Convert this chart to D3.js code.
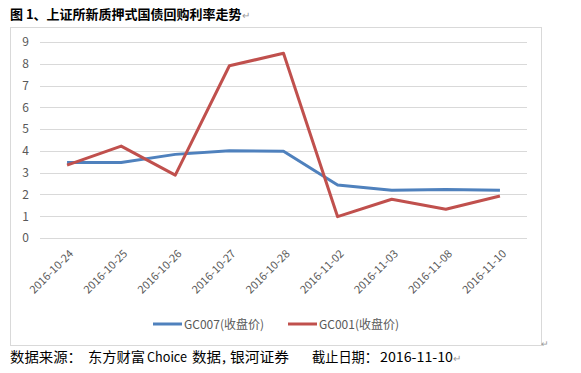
<!DOCTYPE html>
<html><head><meta charset="utf-8">
<script src="https://cdn.jsdelivr.net/npm/d3@7"></script>
<style>body{margin:0;background:#fff}</style>
</head><body>
<svg id="c" width="581" height="373"></svg>
<script>
const categories = ["2016-10-24","2016-10-25","2016-10-26","2016-10-27","2016-10-28","2016-11-02","2016-11-03","2016-11-08","2016-11-10"];
const gc007 = [3.47, 3.47, 3.84, 4.01, 3.98, 2.43, 2.19, 2.23, 2.19];
const gc001 = [3.35, 4.22, 2.89, 7.91, 8.48, 0.98, 1.78, 1.32, 1.93];
const yTicks = [0,1,2,3,4,5,6,7,8,9];
const seriesNames = ["GC007(收盘价)", "GC001(收盘价)"];
const colors = ["#4F81BD", "#C0504D"];

const svg = d3.select("#c");
const font = "'Noto Sans CJK SC', 'Noto Sans', sans-serif";

svg.append("text").attr("x", 10).attr("y", 19).attr("font-family", font)
  .attr("font-size", 13).attr("font-weight", "bold").attr("fill", "#000")
  .text("图 1、上证所新质押式国债回购利率走势")
  .append("tspan").attr("fill", "#999").attr("font-weight", "normal").attr("font-size", 10).text("↵");

svg.append("rect").attr("x", 10.5).attr("y", 27.5).attr("width", 531).attr("height", 318)
  .attr("fill", "none").attr("stroke", "#d9d9d9");

const x = d3.scaleBand().domain(categories).range([40, 527]);
const y = d3.scaleLinear().domain([0, 9]).range([238, 42]);

const grid = svg.append("g");
grid.selectAll("line").data(yTicks).join("line")
  .attr("x1", 40).attr("x2", 527)
  .attr("y1", d => Math.round(y(d)) + 0.5).attr("y2", d => Math.round(y(d)) + 0.5)
  .attr("stroke", "#d9d9d9");

const yAxis = svg.append("g").attr("transform", "translate(29,0)")
  .call(d3.axisLeft(y).tickValues(yTicks).tickSize(0).tickPadding(0));
yAxis.select(".domain").remove();
yAxis.selectAll("text").attr("font-family", font).attr("font-size", 12).attr("fill", "#595959");

const xAxis = svg.append("g").attr("transform", "translate(0,252)")
  .call(d3.axisBottom(x).tickSize(0).tickPadding(0));
xAxis.select(".domain").remove();
xAxis.selectAll("text").attr("font-family", font).attr("font-size", 11).attr("fill", "#595959")
  .attr("text-anchor", "end").attr("dy", "0.6em").attr("dx", "0.3em")
  .attr("transform", "rotate(-45)");

const line = d3.line().x((d, i) => x(categories[i]) + x.bandwidth() / 2).y(d => y(d));
[gc007, gc001].forEach((s, k) => {
  svg.append("path").datum(s).attr("d", line).attr("fill", "none")
    .attr("stroke", colors[k]).attr("stroke-width", 3).attr("stroke-linejoin", "round");
});

const legX = [153, 288];
seriesNames.forEach((n, k) => {
  svg.append("line").attr("x1", legX[k]).attr("x2", legX[k] + 29).attr("y1", 324).attr("y2", 324)
    .attr("stroke", colors[k]).attr("stroke-width", 3);
  svg.append("text").attr("x", legX[k] + 31).attr("y", 328.5).attr("font-family", font)
    .attr("font-size", 12).attr("fill", "#595959").text(n);
});

svg.append("text").attr("x", 541).attr("y", 347).attr("font-size", 9).attr("fill", "#999").text("↵");

const foot = svg.append("text").attr("y", 362).attr("font-family", font)
  .attr("font-size", 13.5).attr("fill", "#000");
const parts = [
  ["数据来源：", 10, 72], ["东方财富", 88, 57], ["Choice", 147, 40], ["数据", 192, 29],
  [",", 222, 4], ["银河证券", 230, 59], ["截止日期：", 312, 66], ["2016-11-10", 380, 73]
];
parts.forEach(([t, px, w]) => {
  foot.append("tspan").attr("x", px).attr("textLength", w)
    .attr("lengthAdjust", "spacingAndGlyphs").text(t);
});
foot.append("tspan").attr("fill", "#999").attr("font-size", 10).text("↵");
</script>
</body></html>
